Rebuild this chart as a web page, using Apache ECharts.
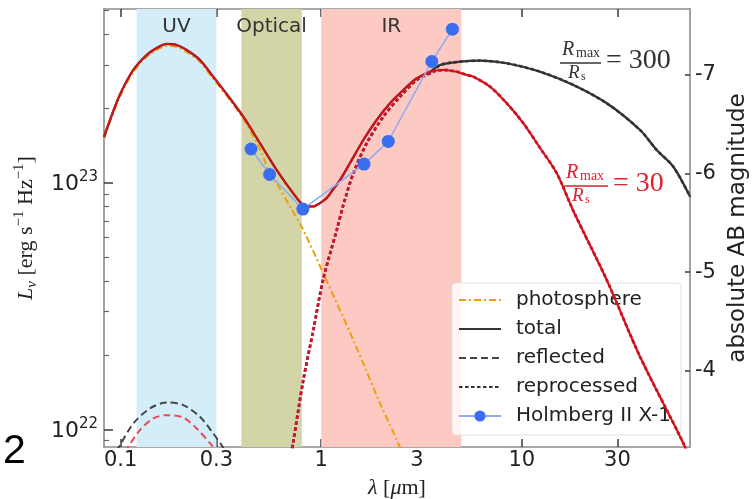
<!DOCTYPE html>
<html>
<head>
<meta charset="utf-8">
<script src="https://cdn.jsdelivr.net/npm/echarts@6/dist/echarts.min.js"></script>
<style>
  html, body { margin: 0; padding: 0; background: #fff; }
  #chart { width: 752px; height: 499px; }
</style>
</head>
<body>
<div id="chart"></div>
<script>
// ---- data: wavelength in micron, L_nu in erg s^-1 Hz^-1 ----

// spectral bands
const bandNames = ['UV', 'Optical', 'IR'];
const bandFrom  = [0.12, 0.4, 1.0];
const bandTo    = [0.3, 0.8, 5.0];

// photosphere (shared by both models)
const photoLam = [0.0826, 0.0885, 0.099, 0.1156, 0.1348, 0.1512, 0.1696, 0.1902, 0.2134, 0.2486, 0.2896, 0.3508, 0.4089, 0.4953, 0.5553, 0.5998, 0.699, 0.8141, 1.024, 1.446, 1.965, 2.424, 2.65];
const photoL   = [1.504e23, 1.763e23, 2.226e23, 2.811e23, 3.234e23, 3.45e23, 3.584e23, 3.55e23, 3.388e23, 3.087e23, 2.634e23, 2.164e23, 1.813e23, 1.37e23, 1.084e23, 9.94e22, 8.0e22, 6.43e22, 4.29e22, 2.302e22, 1.275e22, 8.77e21, 7.3e21];

// total emission, identical for both models short of ~3.5 micron
const totalLam = [0.0826, 0.0885, 0.099, 0.1156, 0.1348, 0.1512, 0.1696, 0.1902, 0.2134, 0.2486, 0.2896, 0.3508, 0.4089, 0.4953, 0.5998, 0.7257, 0.8141, 0.9102, 0.986, 1.065, 1.149, 1.241, 1.392, 1.622, 1.891, 2.203, 2.568, 2.995, 3.487];
const totalL   = [1.532e23, 1.796e23, 2.268e23, 2.864e23, 3.295e23, 3.517e23, 3.652e23, 3.618e23, 3.452e23, 3.145e23, 2.690e23, 2.199e23, 1.852e23, 1.445e23, 1.126e23, 9.06e22, 8.12e22, 8.01e22, 8.27e22, 8.67e22, 9.43e22, 1.025e23, 1.202e23, 1.490e23, 1.796e23, 2.099e23, 2.376e23, 2.651e23, 2.819e23];

// long-wavelength tail, R_max/R_s = 300
const tail300Lam = [3.913, 4.924, 6.194, 8.418, 12.34, 18.09, 26.55, 38.9, 47.1, 57.0, 69.1];
const tail300L   = [3.001e23, 3.095e23, 3.124e23, 3.049e23, 2.819e23, 2.490e23, 2.099e23, 1.636e23, 1.357e23, 1.161e23, 8.77e22];

// long-wavelength tail, R_max/R_s = 30
const tail30Lam = [4.064, 4.74, 5.318, 5.735, 6.95, 8.418, 10.19, 12.34, 14.95, 18.09, 26.55, 38.9, 64.0, 69.1];
const tail30L   = [2.864e23, 2.819e23, 2.733e23, 2.690e23, 2.450e23, 2.099e23, 1.741e23, 1.383e23, 1.092e23, 7.68e22, 4.03e22, 1.970e22, 8.77e21, 7.37e21];

// reprocessed emission rising through the near-IR
const reproLam = [0.70, 0.7257, 0.8141, 0.9133, 1.024, 1.195, 1.289, 1.446, 1.686, 2.040, 2.472, 2.995, 3.624];
const reproL   = [7.5e21, 8.91e21, 1.585e22, 2.527e22, 4.07e22, 6.43e22, 8.12e22, 1.092e23, 1.445e23, 1.852e23, 2.233e23, 2.609e23, 2.819e23];

// reflected emission
const refl300Lam = [0.095, 0.0992, 0.1156, 0.140, 0.1696, 0.2052, 0.2486, 0.2896, 0.3189, 0.33];
const refl300L   = [8.17e21, 8.63e21, 1.057e22, 1.217e22, 1.287e22, 1.255e22, 1.125e22, 9.63e21, 8.63e21, 8.2e21];
const refl30Lam  = [0.105, 0.1091, 0.1248, 0.1454, 0.1696, 0.2052, 0.2393, 0.2844, 0.295];
const refl30L    = [8.1e21, 8.50e21, 9.94e21, 1.108e22, 1.143e22, 1.118e22, 1.009e22, 8.63e21, 8.2e21];

// Holmberg II X-1 photometry
const obsLam = [0.447, 0.553, 0.81, 1.635, 2.16, 3.56, 4.51];
const obsL   = [1.37e23, 1.08e23, 7.82e22, 1.19e23, 1.47e23, 3.10e23, 4.19e23];

// axis ranges and tick labels
const lamRange = [0.0826, 69.0];
const lumRange = [8.49e21, 5.06e23];
const lamTicks = [0.1, 0.3, 1, 3, 10, 30];
const lumTicks = [1e22, 1e23];
const lumMinorTicks = [9e21, 2e22, 3e22, 4e22, 5e22, 6e22, 7e22, 8e22, 9e22, 2e23, 3e23, 4e23, 5e23];
const magTicks = [-7, -6, -5, -4];

// ---- helpers ----
const pairs = (xs, ys) => xs.map((x, i) => [x, ys[i]]);
// absolute AB magnitude of a luminosity density (10 pc reference)
const toAB = L => -2.5 * Math.log10(L) + 51.595;

const sans = "'DejaVu Sans', sans-serif";
const serif = "'Liberation Serif', 'DejaVu Serif', serif";
const spine = { show: true, lineStyle: { color: '#8c8c8c', width: 1.6 } };
const tickColor = '#3a3a3a';
const bandColors = ['#d3eef8', '#d4d4a9', '#fdc9c3'];
const dotted = [3.5, 2.5];

const total300 = pairs(totalLam, totalL).concat(pairs(tail300Lam, tail300L));
const total30  = pairs(totalLam, totalL).concat(pairs(tail30Lam, tail30L));
const repro300 = pairs(reproLam, reproL).concat(pairs(tail300Lam, tail300L));
const repro30  = pairs(reproLam, reproL).concat(pairs(tail30Lam, tail30L));

function curve(name, data, color, width, type, z) {
  return {
    type: 'line', name, data, z,
    showSymbol: false, symbol: 'none', smooth: 0.3,
    color, lineStyle: { color, width, type },
    emphasis: { disabled: true }
  };
}

function ratioLabel(x0, yBar, barLen, eqX, value, color) {
  return [
    { type: 'text', x: x0 + 2, y: yBar - 13, style: { text: 'R', font: `italic 20px ${serif}`, fill: color, verticalAlign: 'middle' } },
    { type: 'text', x: x0 + 16, y: yBar - 10, style: { text: 'max', font: `14px ${serif}`, fill: color, verticalAlign: 'middle' } },
    { type: 'line', shape: { x1: x0, y1: yBar, x2: x0 + barLen, y2: yBar }, style: { stroke: color, lineWidth: 1.4 } },
    { type: 'text', x: x0 + 8, y: yBar + 10, style: { text: 'R', font: `italic 19px ${serif}`, fill: color, verticalAlign: 'middle' } },
    { type: 'text', x: x0 + 21, y: yBar + 14, style: { text: 's', font: `12px ${serif}`, fill: color, verticalAlign: 'middle' } },
    { type: 'text', x: eqX, y: yBar - 2, style: { text: '= ' + value, font: `28px ${serif}`, fill: color, verticalAlign: 'middle' } }
  ];
}

// legend entries drawn as plain line samples (no marker)
const lineOnly = name => ({ name, itemStyle: { color: 'rgba(0,0,0,0)', borderColor: 'rgba(0,0,0,0)', borderWidth: 0, opacity: 0 } });

const chart = echarts.init(document.getElementById('chart'), null, { renderer: 'canvas' });

chart.setOption({
  animation: false,
  backgroundColor: '#fff',
  grid: { left: 104, right: 62, top: 9, bottom: 52, outerBoundsMode: 'none' },
  xAxis: [
    {
      type: 'log', min: lamRange[0], max: lamRange[1], position: 'bottom',
      axisLine: spine,
      splitLine: { show: false },
      axisTick: { inside: true, length: 8, customValues: lamTicks, lineStyle: { color: tickColor, width: 1.5 } },
      axisLabel: {
        customValues: lamTicks, margin: 3, fontSize: 21, fontFamily: sans, color: '#222',
        formatter: v => String(Number(v.toPrecision(3)))
      },
      name: '{i|λ} [{i|μ}m]', nameLocation: 'middle', nameGap: 30,
      nameTextStyle: {
        fontFamily: serif, fontSize: 22, color: '#222',
        rich: { i: { fontFamily: serif, fontSize: 22, fontStyle: 'italic', color: '#222' } }
      }
    },
    {
      type: 'log', min: lamRange[0], max: lamRange[1], position: 'top',
      axisLine: spine,
      splitLine: { show: false },
      axisTick: { inside: true, length: 8, customValues: lamTicks, lineStyle: { color: tickColor, width: 1.5 } },
      axisLabel: { show: false }
    }
  ],
  yAxis: [
    {
      type: 'log', min: lumRange[0], max: lumRange[1], position: 'left',
      axisLine: spine,
      splitLine: { show: false },
      axisTick: { inside: true, length: 9, customValues: lumTicks, lineStyle: { color: tickColor, width: 1.5 } },
      axisLabel: {
        customValues: lumTicks, margin: 6,
        formatter: v => '{b|10}{e|' + Math.round(Math.log10(v)) + '}',
        rich: {
          b: { fontSize: 22, fontFamily: sans, color: '#222', verticalAlign: 'bottom', lineHeight: 26 },
          e: { fontSize: 15, fontFamily: sans, color: '#222', verticalAlign: 'top', lineHeight: 26 }
        }
      },
      name: '{i|L}{sub|ν} [erg s{sup|−1} Hz{sup|−1}]',
      nameLocation: 'middle', nameRotate: 90, nameGap: 52,
      nameTextStyle: {
        fontFamily: serif, fontSize: 22, color: '#222',
        rich: {
          i: { fontFamily: serif, fontSize: 22, fontStyle: 'italic', color: '#222', verticalAlign: 'middle', lineHeight: 28 },
          sub: { fontFamily: serif, fontSize: 15, fontStyle: 'italic', color: '#222', verticalAlign: 'bottom', lineHeight: 28 },
          sup: { fontFamily: serif, fontSize: 15, color: '#222', verticalAlign: 'top', lineHeight: 28 }
        }
      }
    },
    {
      type: 'value', min: toAB(lumRange[1]), max: toAB(lumRange[0]), inverse: true, position: 'right',
      axisLine: spine,
      splitLine: { show: false },
      axisTick: { inside: true, length: 5, customValues: magTicks, lineStyle: { color: tickColor, width: 1.5 } },
      axisLabel: { customValues: magTicks, margin: 5, fontSize: 21, fontFamily: sans, color: '#222', formatter: v => String(Math.round(v)) },
      name: 'absolute AB magnitude', nameLocation: 'middle', nameRotate: 90, nameGap: 37,
      nameTextStyle: { fontFamily: sans, fontSize: 23, color: '#222' }
    },
    {
      type: 'log', min: lumRange[0], max: lumRange[1], position: 'left', offset: 0,
      axisLine: { show: false },
      splitLine: { show: false },
      axisTick: { inside: true, length: 5, customValues: lumMinorTicks, lineStyle: { color: '#666', width: 1.2 } },
      axisLabel: { show: false }
    }
  ],
  legend: {
    data: [lineOnly('photosphere'), lineOnly('total'), lineOnly('reflected'), lineOnly('reprocessed'), { name: 'Holmberg II X-1' }],
    orient: 'vertical', left: 452, top: 283,
    padding: [6, 10, 8, 6],
    itemWidth: 42, itemHeight: 14, itemGap: 7,
    backgroundColor: 'rgba(255,255,255,0.82)',
    borderColor: '#e2e2e2', borderWidth: 1, borderRadius: 4,
    textStyle: { fontFamily: sans, fontSize: 20, color: '#222', lineHeight: 22, padding: [0, 0, 0, 10] },
    selectedMode: false
  },
  graphic: [
    ...ratioLabel(560, 63, 41, 606, '300', '#333'),
    ...ratioLabel(564, 186, 44, 613, '30', '#e0202c'),
    { type: 'text', x: 3, y: 452, style: { text: '2', font: `41px 'Liberation Sans', sans-serif`, fill: '#000', verticalAlign: 'middle' } }
  ],
  series: [
    {
      type: 'line', name: 'bands', data: [], silent: true, z: 1,
      markArea: {
        silent: true,
        label: { show: true, position: 'insideTop', distance: 8, fontSize: 20, fontFamily: sans, color: '#333' },
        data: bandNames.map((n, i) => [
          { name: n, xAxis: bandFrom[i], itemStyle: { color: bandColors[i], opacity: 1 } },
          { xAxis: bandTo[i] }
        ])
      }
    },
    curve('photosphere', pairs(photoLam, photoL), '#eea00c', 2, [7, 3, 2, 3], 3),
    curve('total', total300, '#333333', 2.2, 'solid', 5),
    curve('reflected', pairs(refl300Lam, refl300L), '#454545', 2, [7, 4], 4),
    curve('reprocessed', repro300, '#333333', 2.6, dotted, 4),
    curve('total', total30, '#cf121c', 2.1, 'solid', 6),
    curve('reflected', pairs(refl30Lam, refl30L), '#ee4a57', 2, [7, 4], 4),
    curve('reprocessed', repro30, '#d0142a', 2.8, dotted, 5),
    {
      type: 'line', name: 'Holmberg II X-1', data: pairs(obsLam, obsL), z: 8,
      symbol: 'circle', symbolSize: 13, showSymbol: true,
      color: '#3a6ef0',
      itemStyle: { color: '#3a6ef0' },
      lineStyle: { color: '#8eaaf0', width: 1.5 },
      emphasis: { disabled: true }
    }
  ]
});
</script>
</body>
</html>
